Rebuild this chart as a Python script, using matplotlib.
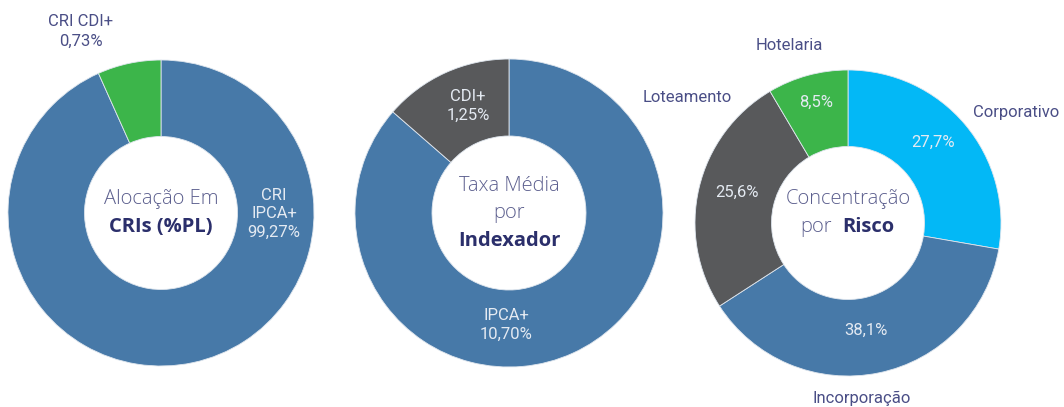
import matplotlib.pyplot as plt

# ── data ──────────────────────────────────────────────────────────────────────
# slice sizes as drawn in the picture (first two donuts are not proportional)
alloc_sizes = [93.3, 6.7]
alloc_labels = ["CRI\nIPCA+\n99,27%", "CRI CDI+\n0,73%"]

rate_sizes = [86.4, 13.6]
rate_labels = ["IPCA+\n10,70%", "CDI+\n1,25%"]

risk_names = ["Corporativo", "Incorporação", "Loteamento", "Hotelaria"]
risk_sizes = [27.7, 38.1, 25.6, 8.5]
risk_pct = ["27,7%", "38,1%", "25,6%", "8,5%"]

BLUE, GREEN, GRAY, CYAN = "#4779A8", "#3CB54A", "#58595B", "#03B8F6"
LABEL = "#4A4E86"
CTR = "#5C5F8E"
BOLD = "#2B2F6B"
WHITE = "#E4EAF2"

W, H = 1064, 407
fig = plt.figure(figsize=(W / 100, H / 100), dpi=100)
ax = fig.add_axes([0, 0, 1, 1])

FONT = "Roboto"
CFONT = "Open Sans"
LS = 12      # label size
CS = 14.5    # centre title size


def Y(py):
    return H - py


def donut(cx, cy, r, sizes, colors):
    ax.pie(sizes, colors=colors, startangle=90, counterclock=False,
           center=(cx, Y(cy)), radius=r, frame=True,
           wedgeprops=dict(width=r * 0.5, edgecolor="#dfe6ee", linewidth=0.6))


def inner(x, y, s):
    ax.text(x, Y(y), s, ha="center", va="center", color=WHITE,
            fontsize=LS, family=FONT, linespacing=1.3)


# ── 1. Alocação em CRIs ──────────────────────────────────────────────────────
donut(161, 213, 153, alloc_sizes, [BLUE, GREEN])
inner(274, 214, alloc_labels[0])
ax.text(81, Y(31), alloc_labels[1], ha="center", va="center", color=LABEL,
        fontsize=LS, family=FONT, linespacing=1.4)
ax.text(161, Y(199), "Alocação Em", ha="center", va="center", color=CTR,
        fontsize=CS, family=CFONT, fontweight="light")
ax.text(161, Y(227), "CRIs (%PL)", ha="center", va="center", color=BOLD,
        fontsize=CS, family=CFONT, fontweight="bold")

# ── 2. Taxa média por indexador ──────────────────────────────────────────────
donut(509, 213, 154, rate_sizes, [BLUE, GRAY])
inner(506, 325, rate_labels[0])
inner(468, 106, rate_labels[1])
ax.text(509, Y(186), "Taxa Média", ha="center", va="center", color=CTR,
        fontsize=CS, family=CFONT, fontweight="light")
ax.text(509, Y(213), "por", ha="center", va="center", color=CTR,
        fontsize=CS, family=CFONT, fontweight="light")
ax.text(509, Y(241), "Indexador", ha="center", va="center", color=BOLD,
        fontsize=CS, family=CFONT, fontweight="bold")

# ── 3. Concentração por risco ────────────────────────────────────────────────
donut(848, 223, 153, risk_sizes, [CYAN, BLUE, GRAY, GREEN])
name_pos = [(1016, 112), (862, 398), (687, 98), (789, 45)]
pct_pos = [(933, 142), (866, 330), (737, 192), (816, 102)]
for name, pct, (nx, ny), (px, py) in zip(risk_names, risk_pct, name_pos, pct_pos):
    ax.text(nx, Y(ny), name, ha="center", va="center", color=LABEL,
            fontsize=LS, family=FONT)
    inner(px, py, pct)
ax.text(848, Y(199), "Concentração", ha="center", va="center", color=CTR,
        fontsize=CS, family=CFONT, fontweight="light")
ax.text(832, Y(227), "por", ha="right", va="center", color=CTR,
        fontsize=CS, family=CFONT, fontweight="light")
ax.text(842, Y(227), "Risco", ha="left", va="center", color=BOLD,
        fontsize=CS, family=CFONT, fontweight="bold")

ax.set_xlim(0, W)
ax.set_ylim(0, H)
ax.set_aspect("equal")
ax.axis("off")
fig.savefig("out.png", dpi=100)
